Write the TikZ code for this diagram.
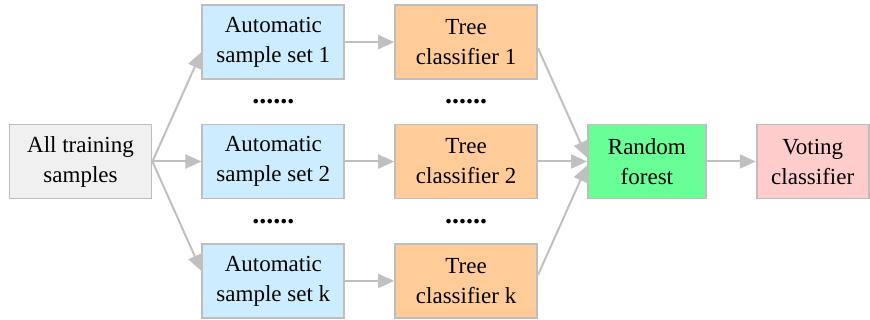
\documentclass[tikz,border=0pt]{standalone}
\usepackage{fontspec}
\setmainfont{Liberation Serif}
\usetikzlibrary{positioning, arrows.meta, calc}

\definecolor{boxline}{RGB}{190,190,190}
\definecolor{linkgray}{RGB}{192,192,192}
\definecolor{allfill}{RGB}{240,240,240}
\definecolor{setfill}{RGB}{204,236,255}
\definecolor{treefill}{RGB}{255,204,153}
\definecolor{rffill}{RGB}{106,255,150}
\definecolor{votefill}{RGB}{255,204,204}

\begin{document}
\begin{tikzpicture}[
    x=0.5pt, y=-0.5pt,
    node distance=21.8pt and 24.5pt,
    box/.style={rectangle, draw=boxline, line width=0.9pt, minimum width=71pt,
        minimum height=37pt, inner sep=0pt, align=center,
        font=\rmfamily\fontsize{11.5}{15}\selectfont},
    dots/.style={inner sep=0pt, font=\rmfamily\fontsize{14}{14}\selectfont\bfseries},
    link/.style={draw=linkgray, line width=1pt, -{Triangle[length=8pt,width=7pt]}}
]
    \useasboundingbox (0,0) rectangle (870,320);

    % samples
    \node[box, fill=allfill] (all) at (80.5,161.5) {All training\\samples};
    \node[box, fill=setfill, right=of all] (a2) {Automatic\\sample set 2};
    \node[box, fill=setfill, above=of a2] (a1) {Automatic\\sample set 1};
    \node[box, fill=setfill, below=of a2] (ak) {Automatic\\sample set k};

    % trees
    \node[box, fill=treefill, right=of a1] (t1) {Tree\\classifier 1};
    \node[box, fill=treefill, right=of a2] (t2) {Tree\\classifier 2};
    \node[box, fill=treefill, right=of ak] (tk) {Tree\\classifier k};

    % forest and vote
    \node[box, fill=rffill, minimum width=59pt, right=of t2] (rf) {Random\\forest};
    \node[box, fill=votefill, minimum width=56pt, right=of rf] (vote) {Voting\\classifier};

    \node[dots] (d1) at ($(a1)!0.5!(a2)$) {......};
    \node[dots] (d2) at ($(a2)!0.5!(ak)$) {......};
    \node[dots] (d3) at ($(t1)!0.5!(t2)$) {......};
    \node[dots] (d4) at ($(t2)!0.5!(tk)$) {......};

    \draw[link] (all.east) -- ([yshift=-5pt]a1.west);
    \draw[link] (all.east) -- (a2.west);
    \draw[link] (all.east) -- ([yshift=5pt]ak.west);
    \draw[link] (a1) -- (t1);
    \draw[link] (a2) -- (t2);
    \draw[link] (ak) -- (tk);
    \draw[link] ([yshift=-3pt]t1.east) -- ([yshift=2pt]rf.west);
    \draw[link] (t2) -- (rf);
    \draw[link] ([yshift=3pt]tk.east) -- ([yshift=-2pt]rf.west);
    \draw[link] (rf) -- (vote);
\end{tikzpicture}
\end{document}
